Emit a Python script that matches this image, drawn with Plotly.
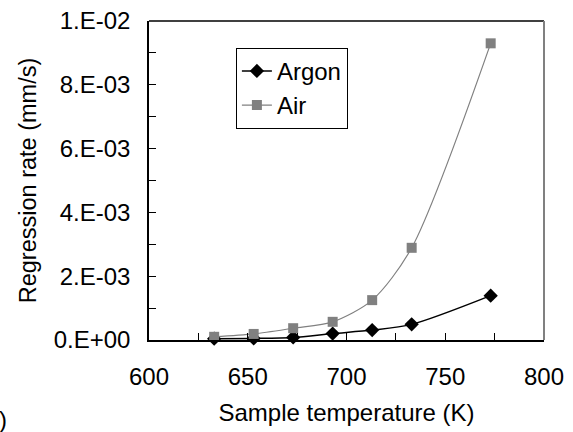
import plotly.graph_objects as go

temperature = [633, 653, 673, 693, 713, 733, 773]
argon = [0.04e-3, 0.05e-3, 0.08e-3, 0.20e-3, 0.31e-3, 0.49e-3, 1.39e-3]
air = [0.10e-3, 0.19e-3, 0.37e-3, 0.57e-3, 1.25e-3, 2.89e-3, 9.30e-3]

y_tickvals = [0, 0.001, 0.002, 0.003, 0.004, 0.005, 0.006, 0.007, 0.008, 0.009, 0.010]
y_ticktext = ["0.E+00", "", "2.E-03", "", "4.E-03", "", "6.E-03", "", "8.E-03", "", "1.E-02"]
x_tickvals = [600, 625, 650, 675, 700, 725, 750, 775, 800]
x_ticktext = ["600", "", "650", "", "700", "", "750", "", "800"]

FONT = "Liberation Sans, Arial, sans-serif"
FS = 24

fig = go.Figure()
fig.add_trace(go.Scatter(
    x=temperature, y=argon, name="Argon", mode="lines+markers",
    line=dict(color="black", width=1.5, shape="spline", smoothing=0.8),
    marker=dict(symbol="diamond", size=11, color="black"),
    cliponaxis=False,
))
fig.add_trace(go.Scatter(
    x=temperature, y=air, name="Air", mode="lines+markers",
    line=dict(color="#808080", width=1.2, shape="spline", smoothing=0.8),
    marker=dict(symbol="square", size=10, color="#808080"),
    cliponaxis=False,
))

fig.update_layout(
    width=573, height=432,
    margin=dict(l=149, r=29, t=21, b=92, autoexpand=False),
    paper_bgcolor="white", plot_bgcolor="white",
    font=dict(family=FONT, size=FS, color="black"),
    showlegend=True,
    legend=dict(
        x=0.22, y=0.916, xanchor="left", yanchor="top",
        bgcolor="white", bordercolor="black", borderwidth=1,
        font=dict(family=FONT, size=FS), tracegroupgap=0,
        itemwidth=30,
    ),
    xaxis=dict(
        range=[600, 800], showgrid=False, zeroline=False,
        showline=True, linecolor="black", linewidth=1.5,
        ticks="inside", ticklen=7, tickcolor="black", tickwidth=1,
        tickvals=x_tickvals, ticktext=x_ticktext,
        ticklabelstandoff=14,
        title=dict(text="Sample temperature (K)", standoff=16,
                   font=dict(family=FONT, size=FS)),
    ),
    yaxis=dict(
        range=[0, 0.010], showgrid=False, zeroline=False,
        showline=True, linecolor="black", linewidth=1.5,
        ticks="inside", ticklen=7, tickcolor="black", tickwidth=1,
        tickvals=y_tickvals, ticktext=y_ticktext,
        ticklabelstandoff=12,
        title=dict(text="Regression rate (mm/s)", standoff=10,
                   font=dict(family=FONT, size=23.5)),
    ),
    shapes=[
        dict(type="line", xref="paper", yref="paper", x0=0, x1=1, y0=1, y1=1,
             line=dict(color="black", width=1.5)),
        dict(type="line", xref="paper", yref="paper", x0=1, x1=1, y0=0, y1=1,
             line=dict(color="#808080", width=2)),
    ],
    annotations=[
        dict(text=")", xref="paper", yref="paper", x=-152/395, y=-80/320,
             xanchor="left", yanchor="middle", showarrow=False,
             font=dict(family=FONT, size=FS)),
    ],
)

fig.write_html("out.html", config={"displayModeBar": False},
               post_script="document.body.style.margin='0';")
